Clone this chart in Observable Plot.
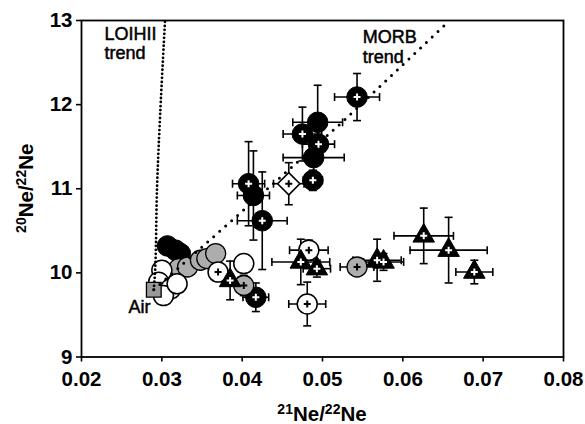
<!DOCTYPE html>
<html><head><meta charset="utf-8">
<script src="https://cdn.jsdelivr.net/npm/d3@7"></script>
<script src="https://cdn.jsdelivr.net/npm/@observablehq/plot@0.6"></script>
<style>
body{margin:0;background:#fff}
svg{font-family:"Liberation Sans",Arial,sans-serif}
</style>
</head><body><div id="chart"></div>
<script>
// ---- data ----
const kind = ["black","black","black","black","black","black","black","black","black","black","black","black","black",
  "gray","gray","gray","gray","gray","gray","gray",
  "white","white","white","white","white","white","white","white","white",
  "tri","tri","tri","tri","tri","tri","tri","tri",
  "diamond","air"];
const ne21 = [0.0543,0.0494,0.0475,0.0495,0.0489,0.0488,0.0408,0.0414,0.0425,0.0307,0.0317,0.0323,0.0417,
  0.0321,0.0332,0.0348,0.0356,0.0367,0.0402,0.0543,
  0.0300,0.0296,0.0311,0.0302,0.0319,0.0402,0.0483,0.0481,0.0370,
  0.0385,0.0473,0.0493,0.0568,0.0576,0.0626,0.0657,0.0689,
  0.0458,0.0290];
const ne20 = [12.09,11.79,11.65,11.53,11.37,11.10,11.06,10.92,10.62,10.32,10.27,10.23,9.71,
  10.05,10.07,10.15,10.17,10.23,9.85,10.07,
  10.03,9.89,9.81,9.73,9.87,10.11,10.27,9.63,10.01,
  9.91,10.13,10.05,10.15,10.13,10.44,10.27,10.01,
  11.06,9.80];
const ne21Err = [0.0028,0.0031,0.0024,0.0020,0.0038,0.0012,0.0020,0.0020,0.0031,0,0,0,0.0016,
  0,0,0,0,0,0.0010,0.0021,
  0,0,0,0,0,0.0010,0.0024,0.0023,0.0008,
  0.0010,0.0036,0.0017,0.0030,0.0025,0.0037,0.0048,0.0023,
  0.0019,0];
const ne20Err = [0.28,0.44,0.32,0.20,0.20,0.12,0.50,0.53,0.58,0,0,0,0.17,
  0,0,0,0,0,0.12,0.06,
  0,0,0,0,0,0.10,0.12,0.26,0.08,
  0.23,0.27,0.10,0.25,0.10,0.33,0.39,0.14,
  0.25,0];
const hasPlus = [1,0,1,1,0,1,1,0,1,0,0,0,1,
  0,0,0,0,0,1,1,
  0,0,0,0,0,0,1,1,1,
  1,1,1,1,1,1,1,1,
  1,0];

const loihiX = [0.0290,0.0292,0.0294,0.0298,0.0304];
const loihiY = [9.80,10.10,11.00,11.90,13.00];
const morbX = [0.0290,0.0394,0.0522,0.0593,0.0655];
const morbY = [9.80,10.68,11.77,12.41,12.97];

const xTicks = [0.02,0.03,0.04,0.05,0.06,0.07,0.08];
const yTicks = [9,10,11,12,13];

const labelText = ["LOIHII\ntrend","MORB\ntrend","Air"];
const labelX = [0.02286,0.0550,0.02585];
const labelY = [12.94,12.90,9.686];

// ---- build tables ----
const pts = kind.map((k,i)=>({kind:k,x:ne21[i],y:ne20[i],xe:ne21Err[i],ye:ne20Err[i],plus:hasPlus[i]}));
const errs = pts.filter(d=>d.xe>0||d.ye>0);
const loihi = loihiX.map((x,i)=>({x,y:loihiY[i]}));
const morb = morbX.map((x,i)=>({x,y:morbY[i]}));
const labels = labelText.map((t,i)=>({t,x:labelX[i],y:labelY[i]}));

const rad = s=>Math.sqrt(s/Math.PI);
const capH = {draw(c,s){const r=rad(s);c.moveTo(-r,0);c.lineTo(r,0);}};
const capV = {draw(c,s){const r=rad(s);c.moveTo(0,-r);c.lineTo(0,r);}};
const plusSym = {draw(c,s){const r=rad(s);c.moveTo(-r,0);c.lineTo(r,0);c.moveTo(0,-r);c.lineTo(0,r);}};

const byKind = k=>pts.filter(d=>d.kind===k);
const yErr = errs.filter(d=>d.ye>0), xErr = errs.filter(d=>d.xe>0);

const chart = Plot.plot({
  width:585, height:424,
  marginLeft:81, marginRight:22, marginTop:20, marginBottom:67.5,
  style:{fontSize:"20px",fontWeight:"bold",fontFamily:"Liberation Sans, Arial, sans-serif",background:"#fff"},
  x:{domain:[0.02,0.08]},
  y:{domain:[9,13]},
  marks:[
    Plot.frame({stroke:"#000",strokeWidth:1.8}),
    Plot.axisX({ticks:xTicks,tickFormat:d3.format(".2f"),tickSize:5,tickPadding:9,strokeWidth:1.6,label:null,fontSize:20.5,fontWeight:"bold",stroke:"#000"}),
    Plot.axisY({ticks:yTicks,tickFormat:d=>String(d),tickSize:5,tickPadding:4,strokeWidth:1.6,label:null,fontSize:20.5,fontWeight:"bold",stroke:"#000"}),
    // error bars
    Plot.ruleX(yErr,{x:"x",y1:d=>d.y-d.ye,y2:d=>d.y+d.ye,stroke:"#000",strokeWidth:1.6}),
    Plot.ruleY(xErr,{y:"y",x1:d=>d.x-d.xe,x2:d=>d.x+d.xe,stroke:"#000",strokeWidth:1.6}),
    Plot.dot(yErr,{x:"x",y:d=>d.y-d.ye,symbol:capH,r:4,stroke:"#000",strokeWidth:1.6}),
    Plot.dot(yErr,{x:"x",y:d=>d.y+d.ye,symbol:capH,r:4,stroke:"#000",strokeWidth:1.6}),
    Plot.dot(xErr,{x:d=>d.x-d.xe,y:"y",symbol:capV,r:4,stroke:"#000",strokeWidth:1.6}),
    Plot.dot(xErr,{x:d=>d.x+d.xe,y:"y",symbol:capV,r:4,stroke:"#000",strokeWidth:1.6}),
    // markers
    Plot.dot(byKind("black"),{x:"x",y:"y",r:10.3,fill:"#000",stroke:"#000",strokeWidth:1}),
    Plot.dot(byKind("gray"),{x:"x",y:"y",r:10,fill:"#adadad",stroke:"#000",strokeWidth:1.3}),
    Plot.dot(byKind("white"),{x:"x",y:"y",r:10,fill:"#fff",stroke:"#000",strokeWidth:1.5}),
    Plot.dot(byKind("tri"),{x:"x",y:"y",r:8,symbol:"triangle",fill:"#000",stroke:"#000",strokeWidth:1}),
    Plot.dot(byKind("diamond"),{x:"x",y:"y",r:10,symbol:"diamond2",fill:"#fff",stroke:"#000",strokeWidth:1.6}),
    Plot.dot(byKind("air"),{x:"x",y:"y",r:8.3,symbol:"square",fill:"#999",stroke:"#000",strokeWidth:1.3}),
    // plus signs
    Plot.dot(pts.filter(d=>d.plus&&(d.kind==="black"||d.kind==="tri")),{x:"x",y:"y",symbol:plusSym,r:3.5,stroke:"#fff",strokeWidth:2}),
    Plot.dot(pts.filter(d=>d.plus&&!(d.kind==="black"||d.kind==="tri")),{x:"x",y:"y",symbol:plusSym,r:3.5,stroke:"#000",strokeWidth:2}),
    // trend lines
    Plot.line(loihi,{x:"x",y:"y",curve:"catmull-rom",stroke:"#000",strokeWidth:2.8,strokeDasharray:"0,4",strokeLinecap:"round"}),
    Plot.line(morb,{x:"x",y:"y",stroke:"#000",strokeWidth:3,strokeDasharray:"0,8",strokeLinecap:"round"}),
    // annotations
    Plot.text(labels,{x:"x",y:"y",text:"t",textAnchor:"start",lineAnchor:"top",lineHeight:1.1,fontSize:18,fontWeight:"normal",fill:"#000",stroke:"#000",strokeWidth:0.5})
  ]
});

document.getElementById("chart").appendChild(chart);

const xs = chart.scale("x"), ys = chart.scale("y");
const cx = (xs.range[0]+xs.range[1])/2, cy = (ys.range[0]+ys.range[1])/2;
const svg = d3.select(chart);
function title(sel, a, b){
  sel.attr("text-anchor","middle").attr("font-size",20.5).attr("font-weight","bold").attr("fill","#000");
  sel.append("tspan").attr("font-size",14).attr("dy",-7).text(a);
  sel.append("tspan").attr("dy",7).text("Ne/");
  sel.append("tspan").attr("font-size",14).attr("dy",-7).text(b);
  sel.append("tspan").attr("dy",7).text("Ne");
}
title(svg.append("text").attr("x",cx).attr("y",421), "21", "22");
title(svg.append("text").attr("transform",`translate(33,${cy}) rotate(-90)`), "20", "22");
</script>
</body></html>
